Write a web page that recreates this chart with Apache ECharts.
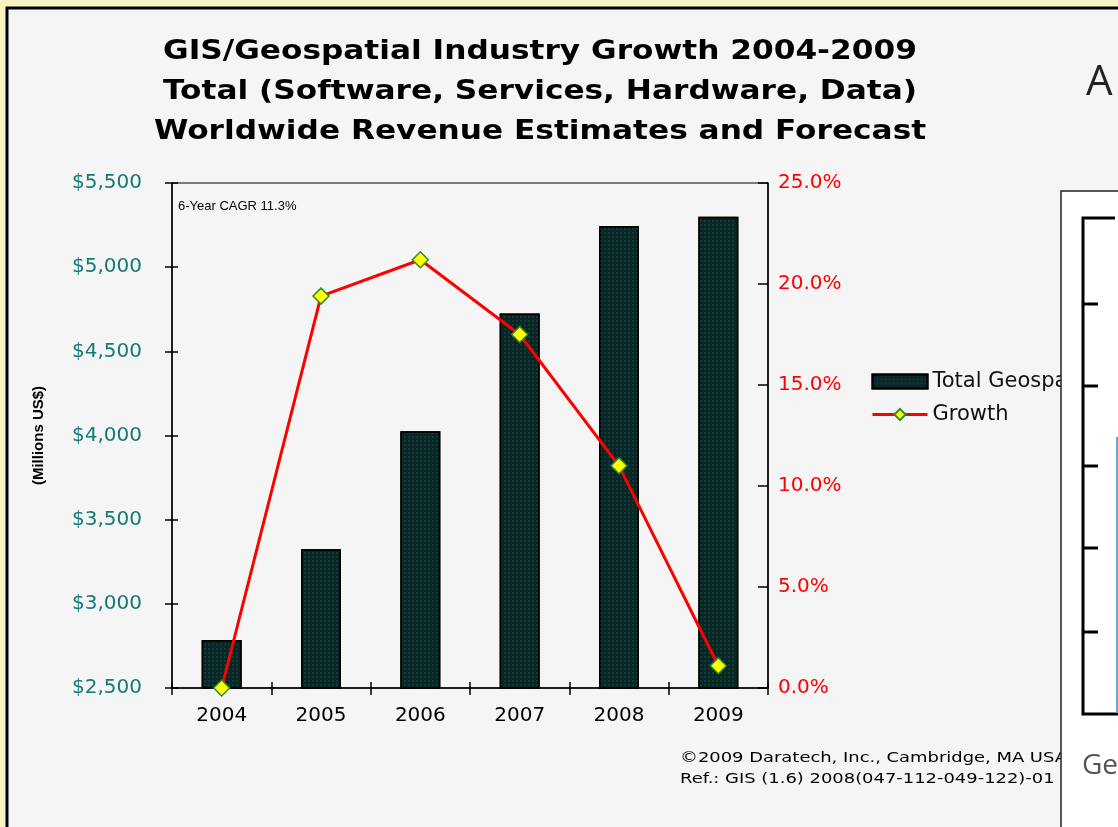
<!DOCTYPE html>
<html>
<head>
<meta charset="utf-8">
<script src="https://cdn.jsdelivr.net/npm/echarts@6/dist/echarts.min.js"></script>
<style>
  html, body { margin: 0; padding: 0; background: #f8f4c0; }
  #chart { width: 1118px; height: 827px; }
</style>
</head>
<body>
<div id="chart"></div>
<script>
// data
var years = ['2004', '2005', '2006', '2007', '2008', '2009'];
var revenue = [2785, 3325, 4025, 4725, 5245, 5300];   // millions US$
var growth = [0.0, 19.4, 21.2, 17.5, 11.0, 1.1];       // %

var chart = echarts.init(document.getElementById('chart'));

var option = {
    backgroundColor: '#f8f4c0',
    animation: false,
    grid: {
        left: 172,
        right: 350,
        top: 183,
        bottom: 139,
        show: true,
        borderColor: '#000',
        borderWidth: 1,
        backgroundColor: 'transparent'
    },
    legend: {
        orient: 'vertical',
        left: 866,
        top: 366,
        itemWidth: 55,
        itemHeight: 14,
        itemGap: 12,
        textStyle: { fontFamily: 'DejaVu Sans', fontSize: 21, color: '#111' },
        data: [
            { name: 'Total Geospatial Revenue', icon: 'rect' },
            { name: 'Growth', lineStyle: { width: 3 } }
        ]
    },
    xAxis: [{
        type: 'category',
        data: years,
        axisLine: { lineStyle: { color: '#000', width: 1.5 } },
        axisTick: { show: true, length: 7, lineStyle: { color: '#000', width: 1.5 } },
        axisLabel: { margin: 18, fontFamily: 'DejaVu Sans', fontSize: 20, color: '#000' }
    }, {
        // inner half of the crossing ticks
        type: 'category',
        data: years,
        position: 'bottom',
        axisLine: { show: false },
        axisTick: { show: true, inside: true, length: 6, lineStyle: { color: '#000', width: 1.5 } },
        axisLabel: { show: false }
    }],
    yAxis: [{
        type: 'value',
        min: 2500,
        max: 5500,
        interval: 500,
        name: '(Millions US$)',
        nameLocation: 'middle',
        nameGap: 126,
        nameTextStyle: { fontFamily: 'Liberation Sans', fontSize: 15, fontWeight: 'bold', color: '#000' },
        axisLine: { show: true, lineStyle: { color: '#000', width: 1.5 } },
        axisTick: { show: true, length: 7, lineStyle: { color: '#000', width: 1.5 } },
        splitLine: { show: false },
        axisLabel: {
            margin: 30,
            fontFamily: 'DejaVu Sans',
            fontSize: 20,
            color: '#137a76',
            formatter: function (v) { return '$' + v.toLocaleString('en-US'); }
        }
    }, {
        type: 'value',
        min: 0,
        max: 25,
        interval: 5,
        position: 'right',
        axisLine: { show: true, lineStyle: { color: '#000', width: 1.5 } },
        axisTick: { show: true, inside: true, length: 10, lineStyle: { color: '#000', width: 1.5 } },
        splitLine: { show: false },
        axisLabel: {
            margin: 10,
            fontFamily: 'DejaVu Sans',
            fontSize: 20,
            color: '#ff0000',
            formatter: function (v) { return v.toFixed(1) + '%'; }
        }
    }, {
        // inner half of the crossing ticks on the left axis
        type: 'value',
        min: 2500,
        max: 5500,
        interval: 500,
        position: 'left',
        axisLine: { show: false },
        axisTick: { show: true, inside: true, length: 6, lineStyle: { color: '#000', width: 1.5 } },
        splitLine: { show: false },
        axisLabel: { show: false }
    }],
    series: [{
        name: 'Total Geospatial Revenue',
        type: 'bar',
        yAxisIndex: 0,
        barWidth: 40,
        data: revenue,
        itemStyle: {
            color: '#0a2624',
            borderColor: '#000',
            borderWidth: 1.5,
            decal: {
                symbol: 'rect',
                symbolSize: 0.5,
                color: 'rgba(30,140,130,0.85)',
                dashArrayX: [2, 2],
                dashArrayY: [2, 2]
            }
        },
        z: 2
    }, {
        name: 'Growth',
        type: 'line',
        yAxisIndex: 1,
        data: growth,
        symbol: 'diamond',
        symbolSize: 16,
        lineStyle: { color: '#ff0000', width: 3 },
        itemStyle: { color: '#ffff00', borderColor: '#2e8b2e', borderWidth: 1.5 },
        z: 5
    }],
    graphic: [
        // slide frame
        {
            type: 'rect', z: -10, silent: true,
            shape: { x: 7, y: 8, width: 1200, height: 900 },
            style: { fill: '#f5f5f5', stroke: '#000', lineWidth: 3 }
        },
        // title, stretched to the wide lettering of the original
        {
            type: 'text', z: 10,
            x: 540, y: 32, scaleX: 1.2,
            style: {
                text: 'GIS/Geospatial Industry Growth 2004-2009\nTotal (Software, Services, Hardware, Data)\nWorldwide Revenue Estimates and Forecast',
                x: 0, y: 0,
                align: 'center',
                lineHeight: 40,
                fontFamily: 'DejaVu Sans',
                fontWeight: 'bold',
                fontSize: 26,
                fill: '#000'
            }
        },
        {
            type: 'text', z: 10,
            style: {
                text: '6-Year CAGR 11.3%',
                x: 178, y: 200,
                fontFamily: 'Liberation Sans',
                fontSize: 13,
                fill: '#000'
            }
        },
        {
            type: 'text', z: 10,
            x: 680, y: 748, scaleX: 1.28,
            style: {
                text: '\u00a92009 Daratech, Inc., Cambridge, MA USA\nRef.: GIS (1.6) 2008(047-112-049-122)-01',
                x: 0, y: 0,
                lineHeight: 21,
                fontFamily: 'DejaVu Sans',
                fontSize: 14,
                fill: '#000'
            }
        },
        // neighbouring panel that cuts the legend and footnote
        {
            type: 'rect', z: 100, silent: true,
            shape: { x: 1061, y: 191, width: 100, height: 700 },
            style: { fill: '#ffffff', stroke: '#222', lineWidth: 1.5 }
        },
        {
            type: 'polyline', z: 101, silent: true,
            shape: { points: [[1115, 218], [1083, 218], [1083, 714], [1118, 714]] },
            style: { stroke: '#000', lineWidth: 3, fill: null }
        },
        { type: 'line', z: 101, silent: true, shape: { x1: 1083, y1: 304, x2: 1098, y2: 304 }, style: { stroke: '#000', lineWidth: 3 } },
        { type: 'line', z: 101, silent: true, shape: { x1: 1083, y1: 386, x2: 1098, y2: 386 }, style: { stroke: '#000', lineWidth: 3 } },
        { type: 'line', z: 101, silent: true, shape: { x1: 1083, y1: 466, x2: 1098, y2: 466 }, style: { stroke: '#000', lineWidth: 3 } },
        { type: 'line', z: 101, silent: true, shape: { x1: 1083, y1: 548, x2: 1098, y2: 548 }, style: { stroke: '#000', lineWidth: 3 } },
        { type: 'line', z: 101, silent: true, shape: { x1: 1083, y1: 632, x2: 1098, y2: 632 }, style: { stroke: '#000', lineWidth: 3 } },
        {
            type: 'rect', z: 101, silent: true,
            shape: { x: 1116, y: 437, width: 3, height: 276 },
            style: { fill: '#6aa9d6' }
        },
        {
            type: 'text', z: 101,
            style: { text: 'A', x: 1086, y: 62, fontFamily: 'Open Sans', fontSize: 42, fill: '#222' }
        },
        {
            type: 'text', z: 101,
            style: { text: 'Ge', x: 1082, y: 752, fontFamily: 'Open Sans', fontSize: 28, fill: '#555' }
        }
    ]
};

chart.setOption(option);
</script>
</body>
</html>
